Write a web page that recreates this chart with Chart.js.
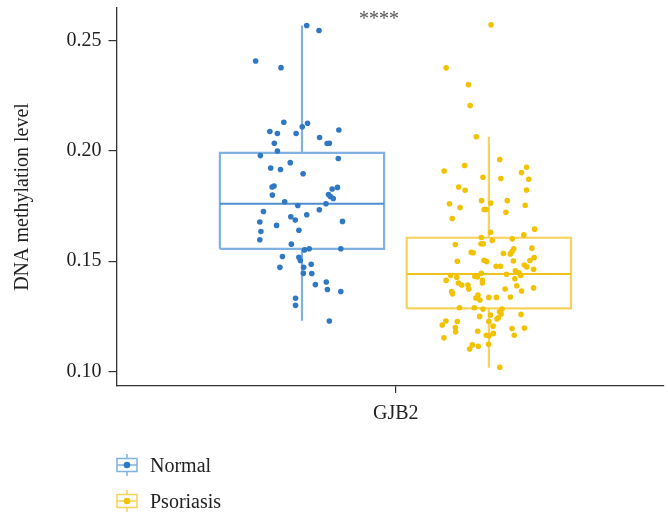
<!DOCTYPE html>
<html>
<head>
<meta charset="utf-8">
<script src="https://cdn.jsdelivr.net/npm/chart.js@4.4.1/dist/chart.umd.min.js"></script>
<style>
  body { margin: 0; background: #fff; }
  #wrap { position: relative; width: 668px; height: 520px; }
  #legend { position: absolute; left: 116px; top: 447px; font-family: "Liberation Serif", serif; font-size: 20px; color: #222; }
  .item { display: flex; align-items: center; height: 36px; }
  .item svg { margin-right: 12px; }
</style>
</head>
<body>
<div id="wrap">
  <canvas id="chart"></canvas>
  <div id="legend"></div>
</div>
<script>
// categories and groups
const categories = ['GJB2'];
const groups = ['Normal', 'Psoriasis'];
const groupCenters = [0.664, 1.333];
const yTicks = [0.10, 0.15, 0.20, 0.25];

// box statistics: [whisker low, Q1, median, Q3, whisker high]
const normalStats = [0.1230, 0.1556, 0.1760, 0.1990, 0.2567];
const psoriasisStats = [0.1018, 0.1286, 0.1442, 0.1606, 0.2063];

// jittered points (x position, value)
const normalX = [0.681, 0.725, 0.498, 0.589, 0.599, 0.684, 0.665, 0.549, 0.576, 0.643,
  0.796, 0.727, 0.754, 0.762, 0.565, 0.576, 0.515, 0.794, 0.622, 0.552,
  0.587, 0.668, 0.557, 0.564, 0.558, 0.772, 0.791, 0.759, 0.766, 0.776,
  0.602, 0.649, 0.750, 0.526, 0.726, 0.681, 0.624, 0.640, 0.513, 0.809,
  0.573, 0.517, 0.653, 0.513, 0.626, 0.673, 0.690, 0.803, 0.594, 0.653,
  0.658, 0.697, 0.585, 0.670, 0.669, 0.699, 0.751, 0.712, 0.755, 0.803,
  0.641, 0.641, 0.762];
const normalY = [0.2567, 0.2544, 0.2406, 0.2376, 0.2129, 0.2124, 0.2108, 0.2087, 0.2078, 0.2078,
  0.2094, 0.2060, 0.2033, 0.2034, 0.2034, 0.1999, 0.1978, 0.1965, 0.1946, 0.1922,
  0.1915, 0.1896, 0.1836, 0.1840, 0.1799, 0.1827, 0.1834, 0.1802, 0.1793, 0.1784,
  0.1769, 0.1752, 0.1760, 0.1725, 0.1733, 0.1710, 0.1701, 0.1686, 0.1677, 0.1680,
  0.1662, 0.1634, 0.1640, 0.1597, 0.1577, 0.1551, 0.1556, 0.1556, 0.1521, 0.1518,
  0.1503, 0.1486, 0.1472, 0.1472, 0.1445, 0.1444, 0.1406, 0.1394, 0.1372, 0.1363,
  0.1332, 0.1300, 0.1229];

const psoriasisX = [1.341, 1.180, 1.260, 1.266, 1.288, 1.372, 1.246, 1.173, 1.468, 1.450,
  1.312, 1.376, 1.476, 1.225, 1.248, 1.468, 1.192, 1.230, 1.307, 1.340,
  1.399, 1.463, 1.316, 1.323, 1.394, 1.202, 1.497, 1.339, 1.458, 1.306,
  1.345, 1.417, 1.213, 1.305, 1.313, 1.487, 1.422, 1.270, 1.277, 1.385,
  1.410, 1.416, 1.495, 1.220, 1.316, 1.325, 1.421, 1.480, 1.359, 1.374,
  1.460, 1.469, 1.493, 1.428, 1.441, 1.196, 1.218, 1.283, 1.292, 1.306,
  1.396, 1.447, 1.180, 1.310, 1.426, 1.224, 1.236, 1.258, 1.310, 1.433,
  1.261, 1.391, 1.493, 1.200, 1.203, 1.450, 1.294, 1.287, 1.301, 1.333,
  1.360, 1.410, 1.228, 1.281, 1.312, 1.380, 1.371, 1.377, 1.339, 1.448,
  1.300, 1.367, 1.362, 1.179, 1.220, 1.333, 1.166, 1.213, 1.214, 1.348,
  1.416, 1.460, 1.293, 1.349, 1.324, 1.334, 1.424, 1.172, 1.332, 1.274,
  1.295, 1.264, 1.372];
const psoriasisY = [0.2570, 0.2375, 0.2299, 0.2205, 0.2063, 0.1960, 0.1933, 0.1908, 0.1925, 0.1901,
  0.1880, 0.1874, 0.1871, 0.1836, 0.1821, 0.1822, 0.1760, 0.1743, 0.1774, 0.1763,
  0.1774, 0.1753, 0.1734, 0.1734, 0.1721, 0.1693, 0.1645, 0.1631, 0.1619, 0.1607,
  0.1594, 0.1601, 0.1575, 0.1579, 0.1579, 0.1559, 0.1556, 0.1540, 0.1538, 0.1535,
  0.1533, 0.1544, 0.1516, 0.1500, 0.1504, 0.1498, 0.1501, 0.1503, 0.1477, 0.1477,
  0.1483, 0.1474, 0.1463, 0.1457, 0.1447, 0.1435, 0.1427, 0.1431, 0.1430, 0.1445,
  0.1441, 0.1435, 0.1413, 0.1413, 0.1420, 0.1401, 0.1392, 0.1392, 0.1401, 0.1389,
  0.1374, 0.1374, 0.1379, 0.1363, 0.1352, 0.1365, 0.1347, 0.1333, 0.1324, 0.1336,
  0.1336, 0.1338, 0.1289, 0.1289, 0.1283, 0.1283, 0.1271, 0.1261, 0.1256, 0.1259,
  0.1250, 0.1244, 0.1238, 0.1229, 0.1227, 0.1227, 0.1211, 0.1200, 0.1180, 0.1206,
  0.1195, 0.1197, 0.1183, 0.1173, 0.1165, 0.1162, 0.1165, 0.1153, 0.1124, 0.1121,
  0.1115, 0.1102, 0.1020];

const significance = '****';
const sigPos = { x: 0.94, y: 0.2615 };

const pointColors = ['#2f78c4', '#f2c100'];
const boxColors = ['#7fb1e3', '#f6d25a'];
const medianColors = ['#4f8fd0', '#f0c21e'];
const halfWidth = 0.294;

function boxData(c, s) {
  const gap = { x: c, y: NaN };
  return [
    { x: c - halfWidth, y: s[1] }, { x: c + halfWidth, y: s[1] },
    { x: c + halfWidth, y: s[3] }, { x: c - halfWidth, y: s[3] },
    { x: c - halfWidth, y: s[1] }, gap,
    { x: c, y: s[0] }, { x: c, y: s[1] }, gap,
    { x: c, y: s[3] }, { x: c, y: s[4] }
  ];
}
function medianData(c, s) {
  return [{ x: c - halfWidth, y: s[2] }, { x: c + halfWidth, y: s[2] }];
}
function points(xs, ys) {
  return xs.map((x, i) => ({ x: x, y: ys[i] }));
}

const stats = [normalStats, psoriasisStats];
const pts = [points(normalX, normalY), points(psoriasisX, psoriasisY)];

const datasets = [];
groups.forEach((g, i) => {
  datasets.push({
    label: g, data: pts[i], order: 0,
    backgroundColor: pointColors[i], borderWidth: 0, pointRadius: 2.8
  });
  datasets.push({
    label: g + ' box', data: boxData(groupCenters[i], stats[i]), order: 2,
    showLine: true, spanGaps: false, borderColor: boxColors[i], borderWidth: 2.2,
    pointRadius: 0, fill: false
  });
  datasets.push({
    label: g + ' median', data: medianData(groupCenters[i], stats[i]), order: 1,
    showLine: true, borderColor: medianColors[i], borderWidth: 2.2,
    pointRadius: 0, fill: false
  });
});

const sigPlugin = {
  id: 'sig',
  afterDatasetsDraw(chart) {
    const ctx = chart.ctx;
    ctx.save();
    ctx.font = '20px "Liberation Serif", serif';
    ctx.fillStyle = '#555';
    ctx.textAlign = 'center';
    ctx.textBaseline = 'middle';
    ctx.fillText(significance, chart.scales.x.getPixelForValue(sigPos.x), chart.scales.y.getPixelForValue(sigPos.y) + 5);
    ctx.restore();
  }
};

const font = { family: '"Liberation Serif", serif', size: 20 };

new Chart(document.getElementById('chart'), {
  type: 'scatter',
  data: { datasets: datasets },
  plugins: [sigPlugin],
  options: {
    responsive: true,
    maintainAspectRatio: false,
    animation: false,
    layout: { padding: { top: 8, right: 0, bottom: 89, left: 0 } },
    plugins: { legend: { display: false }, tooltip: { enabled: false } },
    scales: {
      x: {
        type: 'linear', min: 0, max: 1.96,
        afterBuildTicks: s => { s.ticks = [{ value: 1 }]; },
        afterFit: s => { s.height = 45; s.paddingLeft = 0; s.paddingRight = 0; },
        ticks: { callback: () => categories[0], color: '#222', font: font, padding: 9, maxRotation: 0 },
        grid: { drawOnChartArea: false, drawTicks: true, tickLength: 7, color: '#333', lineWidth: 1.2 },
        border: { color: '#333', width: 1.3 }
      },
      y: {
        min: 0.0935, max: 0.2646,
        afterBuildTicks: s => { s.ticks = yTicks.map(v => ({ value: v })); },
        afterFit: s => { s.width = 116.5; s.paddingTop = 0; s.paddingBottom = 0; },
        ticks: { callback: v => v.toFixed(2), color: '#222', font: font, padding: 7 },
        grid: { drawOnChartArea: false, drawTicks: true, tickLength: 8, color: '#333', lineWidth: 1.2 },
        border: { color: '#333', width: 1.3 },
        title: { display: true, text: 'DNA methylation level', color: '#222', font: font, padding: { top: 11, bottom: 0 } }
      }
    }
  }
});

// legend
const legend = document.getElementById('legend');
groups.forEach((g, i) => {
  const c = boxColors[i], p = pointColors[i];
  legend.insertAdjacentHTML('beforeend',
    '<div class="item"><svg width="22" height="22" viewBox="0 0 22 22">' +
    '<line x1="11" y1="0" x2="11" y2="22" stroke="' + c + '" stroke-width="1.5"/>' +
    '<rect x="1" y="4.5" width="20" height="13" fill="#fff" stroke="' + c + '" stroke-width="1.5"/>' +
    '<line x1="1" y1="11" x2="21" y2="11" stroke="' + c + '" stroke-width="1.5"/>' +
    '<circle cx="11" cy="11" r="3.3" fill="' + p + '"/></svg>' + g + '</div>');
});
</script>
</body>
</html>
